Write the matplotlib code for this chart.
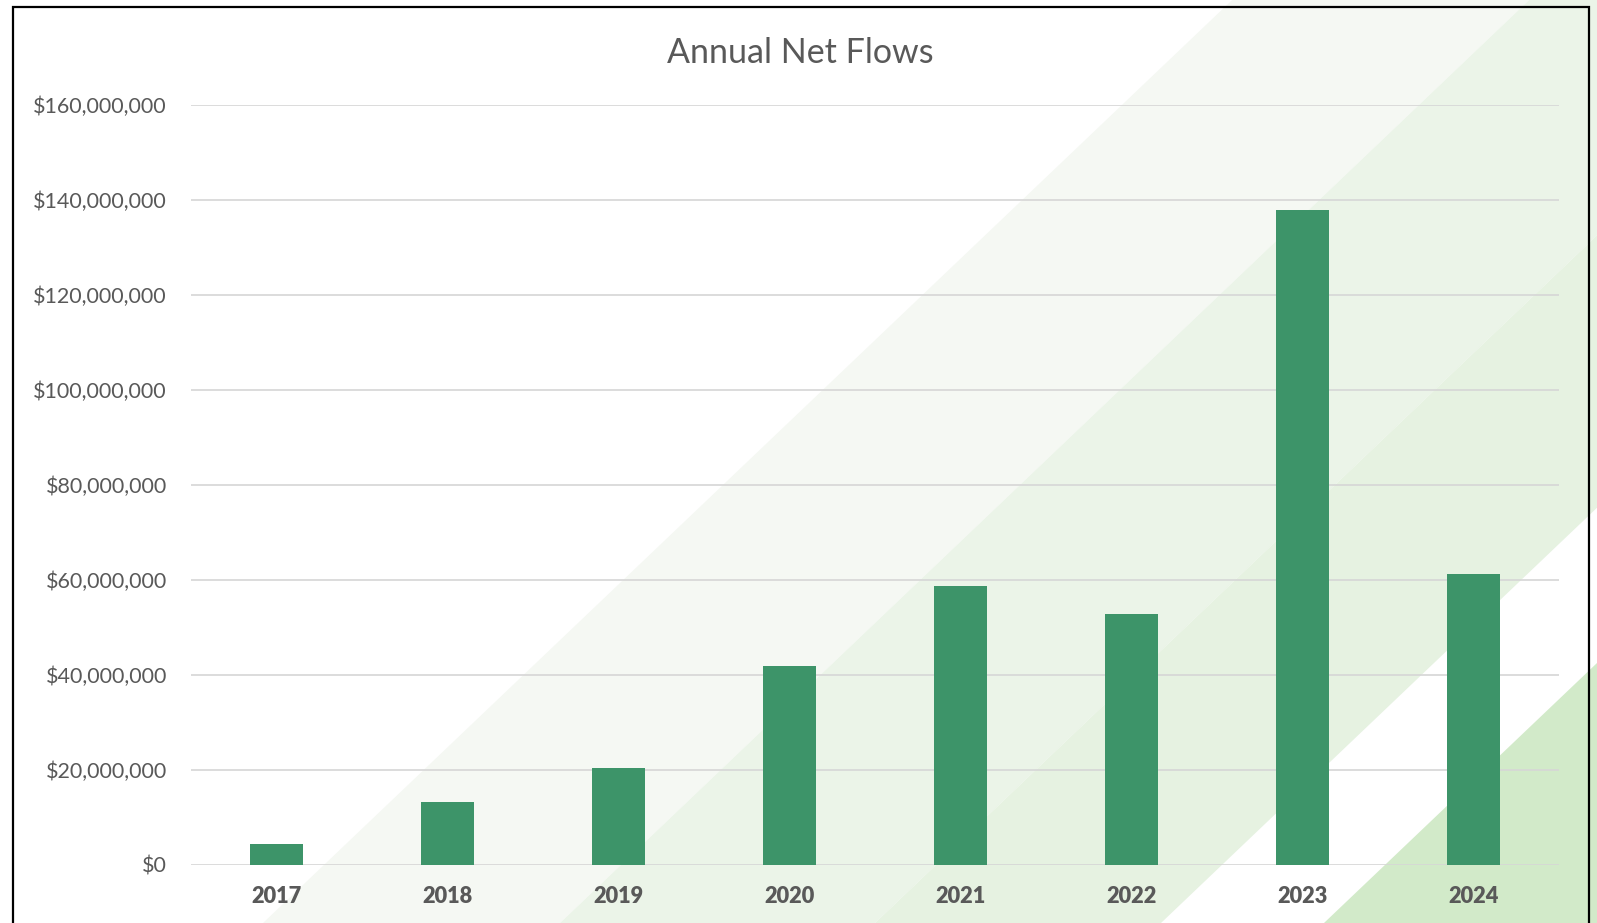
import matplotlib
matplotlib.use("Agg")
import matplotlib.pyplot as plt
from matplotlib.patches import Polygon, Rectangle
from matplotlib.ticker import FuncFormatter

years = ["2017", "2018", "2019", "2020", "2021", "2022", "2023", "2024"]
net_flows = [4_300_000, 13_200_000, 20_300_000, 41_800_000,
             58_600_000, 52_700_000, 137_800_000, 61_200_000]
y_ticks = [0, 20_000_000, 40_000_000, 60_000_000, 80_000_000,
           100_000_000, 120_000_000, 140_000_000, 160_000_000]

W, H = 1597, 923
fig = plt.figure(figsize=(W / 100, H / 100), dpi=100)
fig.patch.set_facecolor("white")

# Decorative diagonal bands behind the chart (pixel space, y downwards)
bg = fig.add_axes([0, 0, 1, 1], zorder=0)
bg.set_xlim(0, W)
bg.set_ylim(H, 0)
bg.axis("off")

slope = 1.05  # horizontal shift per pixel of height


def band(x0, x1, color):
    # x0, x1: where the band edges meet the bottom edge
    pts = [(x0, H), (x1, H), (x1 + slope * H, 0), (x0 + slope * H, 0)]
    bg.add_patch(Polygon(pts, closed=True, facecolor=color, edgecolor="none"))


band(263, 560, "#F5F8F3")
band(560, 875, "#EBF4E8")
band(875, 1161, "#E6F2E1")
band(1324, 3000, "#D2EAC9")

# Chart frame
fig.add_artist(Rectangle((13 / W, -0.05), (1589 - 13) / W, 1.05 - 7 / H,
                         transform=fig.transFigure, fill=False,
                         edgecolor="black", linewidth=1.6, zorder=5))

ax = fig.add_axes([191 / W, 1 - 864.5 / H, (1559 - 191) / W,
                   (864.5 - 104.5) / H], zorder=1)
ax.patch.set_alpha(0)

x = range(len(years))
ax.bar(x, net_flows, width=0.31, color="#3D9469", zorder=3)

ax.set_xlim(-0.5, len(years) - 0.5)
ax.set_ylim(0, 160_000_000)
ax.set_yticks(y_ticks)
ax.yaxis.set_major_formatter(FuncFormatter(lambda v, p: f"${v:,.0f}"))
ax.set_xticks(list(x))
ax.set_xticklabels(years)

ax.grid(axis="y", color="#D6D6D6", linewidth=1.2, zorder=0)
for s in ax.spines.values():
    s.set_visible(False)
ax.tick_params(axis="both", length=0)
ax.tick_params(axis="y", pad=17.3, labelsize=15.5, labelcolor="#595959")
ax.tick_params(axis="x", pad=15.5, labelsize=15.7, labelcolor="#595959")
for lab in ax.get_yticklabels():
    lab.set_family("Lato")
for lab in ax.get_xticklabels():
    lab.set_family("Lato")
    lab.set_fontweight("heavy")

fig.text(800 / W, 1 - 53 / H, "Annual Net Flows", ha="center", va="center",
         fontsize=24.5, color="#595959", family="Lato")

fig.savefig("out.png", dpi=100)
